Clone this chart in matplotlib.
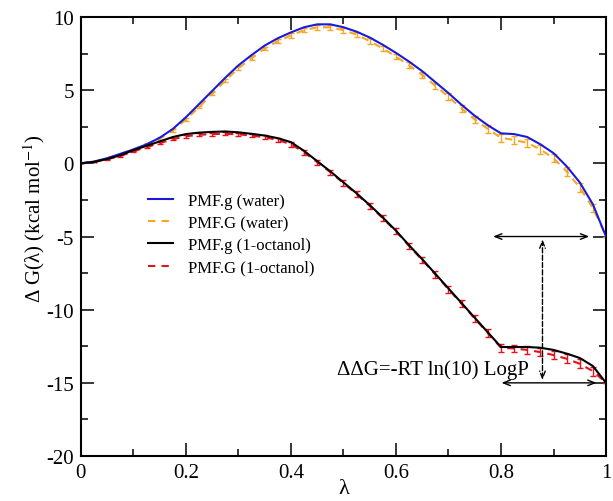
import matplotlib
matplotlib.use("Agg")
import matplotlib.pyplot as plt
from matplotlib.ticker import MultipleLocator
from matplotlib.lines import Line2D

plt.rcParams['font.family'] = ['Liberation Serif', 'DejaVu Serif']
plt.rcParams['mathtext.fontset'] = 'stix'
plt.rcParams['axes.unicode_minus'] = False

# lambda grid
lam = [0.0, 0.025, 0.05, 0.075, 0.1, 0.125, 0.15, 0.175, 0.2, 0.225,
       0.25, 0.275, 0.3, 0.325, 0.35, 0.375, 0.4, 0.425, 0.45, 0.475,
       0.5, 0.525, 0.55, 0.575, 0.6, 0.625, 0.65, 0.675, 0.7, 0.725,
       0.75, 0.775, 0.8, 0.825, 0.85, 0.875, 0.9, 0.925, 0.95, 0.975, 1.0]

# PMF.g (water)
g_water = [0.0, 0.12, 0.35, 0.65, 0.95, 1.3, 1.75, 2.35, 3.15, 4.05,
           4.95, 5.85, 6.7, 7.4, 8.05, 8.55, 8.95, 9.3, 9.5, 9.5,
           9.3, 9.0, 8.6, 8.1, 7.55, 6.95, 6.3, 5.55, 4.8, 4.0,
           3.25, 2.6, 2.05, 2.0, 1.8, 1.3, 0.7, -0.2, -1.3, -2.8, -5.0]

# PMF.G (water)
G_water = [0.0, 0.12, 0.35, 0.62, 0.95, 1.3, 1.7, 2.25, 3.0, 3.85,
           4.75, 5.65, 6.5, 7.2, 7.85, 8.35, 8.75, 9.1, 9.3, 9.3,
           9.1, 8.8, 8.35, 7.85, 7.3, 6.7, 6.05, 5.3, 4.55, 3.75,
           3.0, 2.35, 1.75, 1.6, 1.4, 0.95, 0.35, -0.55, -1.65, -3.05, -5.0]
err_water = [0.0, 0.02, 0.03, 0.04, 0.05, 0.06, 0.07, 0.08, 0.09, 0.1,
             0.1, 0.11, 0.12, 0.12, 0.13, 0.14, 0.15, 0.15, 0.16, 0.17,
             0.18, 0.18, 0.19, 0.2, 0.2, 0.21, 0.22, 0.22, 0.23, 0.24,
             0.24, 0.25, 0.26, 0.26, 0.27, 0.28, 0.28, 0.29, 0.3, 0.3, 0.0]

# PMF.g (1-octanol)
g_oct = [0.0, 0.1, 0.3, 0.55, 0.9, 1.2, 1.5, 1.8, 2.0, 2.1,
         2.15, 2.18, 2.12, 2.02, 1.9, 1.72, 1.45, 0.85, 0.15, -0.55,
         -1.3, -2.05, -2.85, -3.7, -4.6, -5.6, -6.55, -7.55, -8.55, -9.55,
         -10.55, -11.55, -12.55, -12.55, -12.55, -12.6, -12.75, -13.0, -13.3, -13.85, -15.0]

# PMF.G (1-octanol)
G_oct = [0.0, 0.1, 0.28, 0.5, 0.82, 1.1, 1.38, 1.65, 1.85, 1.95,
         2.0, 2.02, 1.98, 1.9, 1.78, 1.6, 1.3, 0.75, 0.08, -0.6,
         -1.35, -2.1, -2.9, -3.75, -4.65, -5.65, -6.6, -7.6, -8.6, -9.6,
         -10.6, -11.6, -12.6, -12.65, -12.75, -12.9, -13.1, -13.35, -13.7, -14.2, -15.0]
err_oct = [0.0, 0.02, 0.03, 0.04, 0.05, 0.06, 0.07, 0.08, 0.09, 0.1,
           0.1, 0.11, 0.12, 0.12, 0.13, 0.14, 0.15, 0.15, 0.16, 0.17,
           0.18, 0.18, 0.19, 0.2, 0.2, 0.21, 0.22, 0.22, 0.23, 0.24,
           0.24, 0.25, 0.26, 0.26, 0.27, 0.28, 0.28, 0.29, 0.3, 0.3, 0.0]

blue = '#1a1adb'
orange = '#f5a623'
red = '#e3131b'
dash = (0, (3.5, 3))

fig = plt.figure(figsize=(6.13, 5.02), dpi=100)
ax = fig.add_axes([0.132, 0.0896, 0.8566, 0.8745])

ax.errorbar(lam, G_water, yerr=err_water, color=orange, lw=1.5, ls=dash,
            elinewidth=1, capsize=2.2, capthick=1, zorder=2)
ax.errorbar(lam, G_oct, yerr=err_oct, color=red, lw=1.5, ls=dash,
            elinewidth=1, capsize=2.2, capthick=1, zorder=2)
ax.plot(lam, g_water, color=blue, lw=1.5, zorder=3)
ax.plot(lam, g_oct, color='black', lw=1.5, zorder=3)

# annotation arrows
ap = dict(arrowstyle='<->,head_length=0.5,head_width=0.2', color='black', lw=1,
          shrinkA=0, shrinkB=0)
ax.annotate('', xy=(0.785, -5), xytext=(0.968, -5), arrowprops=ap)
ax.annotate('', xy=(0.801, -15), xytext=(0.982, -15), arrowprops=ap)
ap2 = dict(ap, ls='--')
ax.annotate('', xy=(0.879, -5.2), xytext=(0.879, -14.8), arrowprops=ap2)
ax.text(0.488, -14.05, 'ΔΔG=-RT ln(10) LogP', fontsize=15, va='center', ha='left')

ax.set_xlim(0, 1)
ax.set_ylim(-20, 10)
ax.set_xticks([0, 0.2, 0.4, 0.6, 0.8, 1.0])
ax.set_xticklabels(['0', '0.2', '0.4', '0.6', '0.8', '1'])
ax.xaxis.set_minor_locator(MultipleLocator(0.1))
ax.yaxis.set_major_locator(MultipleLocator(5))
ax.yaxis.set_minor_locator(MultipleLocator(2.5))
ax.tick_params(which='both', direction='in', top=True, right=True, labelsize=15, width=1.1)
ax.tick_params(which='major', length=9.5, pad=5)
ax.tick_params(which='minor', length=5)
for s in ax.spines.values():
    s.set_linewidth(1.5)

ax.set_xlabel('λ', fontsize=16)
ax.xaxis.set_label_coords(0.5, -0.052)
ax.set_ylabel('Δ G(λ) (kcal mol$^{-1}$)', fontsize=15)
ax.yaxis.set_label_coords(-0.064, 0.544)

handles = [Line2D([], [], color=blue, lw=1.5),
           Line2D([], [], color=orange, lw=1.5, ls=dash),
           Line2D([], [], color='black', lw=1.5),
           Line2D([], [], color=red, lw=1.5, ls=dash)]
labels = ['PMF.g (water)', 'PMF.G (water)', 'PMF.g (1-octanol)', 'PMF.G (1-octanol)']
ax.legend(handles, labels, loc='upper left',
          bbox_to_anchor=(0.1276, 0.600), frameon=False, fontsize=12,
          borderpad=0, borderaxespad=0, handlelength=1.5, handletextpad=0.9,
          labelspacing=0.38)

fig.savefig('out.png', dpi=100)
